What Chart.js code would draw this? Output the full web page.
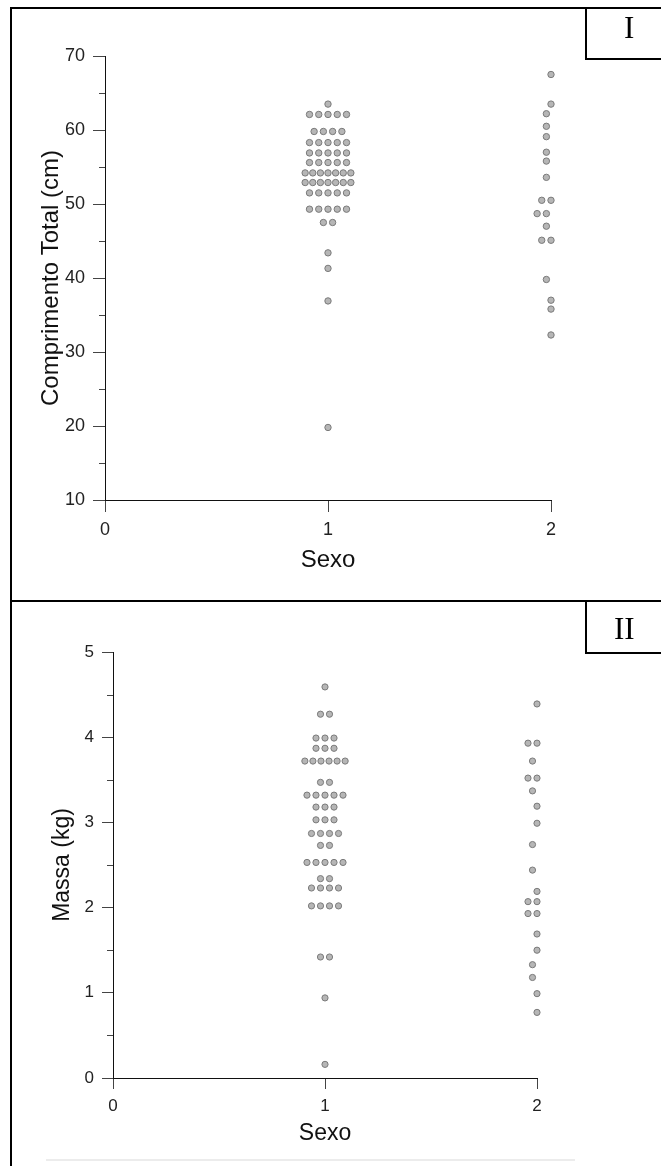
<!DOCTYPE html>
<html>
<head>
<meta charset="utf-8">
<script src="https://cdn.jsdelivr.net/npm/chart.js@4.4.0/dist/chart.umd.min.js"></script>
<style>
  body { margin: 0; background: #fff; }
  #wrap { position: relative; width: 661px; height: 1166px; overflow: hidden; background: #fff; }
  canvas { position: absolute; left: 0; }
  .line { position: absolute; background: #000; }
  .tag { position: absolute; font-family: "Liberation Serif", "Times New Roman", serif; font-size: 31px; color: #000; line-height: 1; }
</style>
</head>
<body>
<div id="wrap">
  <canvas id="chartComprimento" width="661" height="600" style="top:0"></canvas>
  <canvas id="chartMassa" width="661" height="565" style="top:601px"></canvas>

  <div class="line" style="left:10px;top:7px;width:2px;height:1159px"></div>
  <div class="line" style="left:10px;top:7px;width:651px;height:2px"></div>
  <div class="line" style="left:10px;top:600px;width:651px;height:2px"></div>
  <div class="line" style="left:585px;top:7px;width:2px;height:53px"></div>
  <div class="line" style="left:585px;top:58px;width:76px;height:2px"></div>
  <div class="line" style="left:585px;top:600px;width:2px;height:54px"></div>
  <div class="line" style="left:585px;top:652px;width:76px;height:2px"></div>
  <div style="position:absolute;left:46px;top:1159px;width:529px;height:2px;background:#ececec"></div>
  <div class="tag" style="left:624px;top:12px">I</div>
  <div class="tag" style="left:614px;top:613px">II</div>
</div>
<script>
"use strict";

// Comprimento Total (cm), one entry per fish
const comprimentoSexo1 = [
    63.5,
    62.1, 62.1, 62.1, 62.1, 62.1,
    59.8, 59.8, 59.8, 59.8,
    58.3, 58.3, 58.3, 58.3, 58.3,
    56.9, 56.9, 56.9, 56.9, 56.9,
    55.6, 55.6, 55.6, 55.6, 55.6,
    54.2, 54.2, 54.2, 54.2, 54.2, 54.2, 54.2,
    52.9, 52.9, 52.9, 52.9, 52.9, 52.9, 52.9,
    51.5, 51.5, 51.5, 51.5, 51.5,
    49.3, 49.3, 49.3, 49.3, 49.3,
    47.5, 47.5,
    43.4, 41.3, 36.9, 19.8
];
const comprimentoSexo2 = [
    67.5, 63.5,
    62.2, 62.2,
    60.5, 60.5,
    59.1, 59.1,
    57.0, 57.0,
    55.8, 55.8,
    53.6, 53.6,
    50.5, 50.5, 50.5,
    48.7, 48.7, 48.7, 48.7,
    47.0, 47.0,
    45.1, 45.1, 45.1,
    39.8, 39.8,
    37.0, 35.8, 32.3
];

// Massa (kg)
const massaSexo1 = [
    4.59,
    4.27, 4.27,
    3.99, 3.99, 3.99,
    3.87, 3.87, 3.87,
    3.72, 3.72, 3.72, 3.72, 3.72, 3.72,
    3.47, 3.47,
    3.32, 3.32, 3.32, 3.32, 3.32,
    3.18, 3.18, 3.18,
    3.03, 3.03, 3.03,
    2.87, 2.87, 2.87, 2.87,
    2.73, 2.73,
    2.53, 2.53, 2.53, 2.53, 2.53,
    2.34, 2.34,
    2.23, 2.23, 2.23, 2.23,
    2.02, 2.02, 2.02, 2.02,
    1.42, 1.42,
    0.94, 0.16
];
const massaSexo2 = [
    4.39,
    3.93, 3.93, 3.93,
    3.72, 3.72,
    3.52, 3.52, 3.52,
    3.37, 3.37,
    3.19, 2.99,
    2.74, 2.74,
    2.44, 2.44,
    2.19,
    2.07, 2.07, 2.07,
    1.93, 1.93, 1.93,
    1.69, 1.50,
    1.33, 1.33,
    1.18, 1.18,
    0.99, 0.77
];

const sexoTicks = [0, 1, 2];
const comprimentoTicks = [10, 20, 30, 40, 50, 60, 70];
const comprimentoMinor = [15, 25, 35, 45, 55, 65];
const massaTicks = [0, 1, 2, 3, 4, 5];
const massaMinor = [0.5, 1.5, 2.5, 3.5, 4.5];

Chart.defaults.font.family = '"Liberation Sans", Arial, sans-serif';
Chart.defaults.color = '#222';

// spread equal values side by side like a dot plot
function dotRow(values, center, gapMax, spanMax) {
    const counts = {};
    values.forEach(v => { counts[v] = (counts[v] || 0) + 1; });
    const seen = {};
    return values.map(v => {
        const n = counts[v];
        const i = seen[v] || 0;
        seen[v] = i + 1;
        const gap = n > 1 ? Math.min(gapMax, spanMax / (n - 1)) : 0;
        return { x: center + (i - (n - 1) / 2) * gap, y: v };
    });
}

const minorTicks = {
    id: 'minorTicks',
    afterDraw(chart, args, opts) {
        const y = chart.scales.y;
        const ctx = chart.ctx;
        ctx.save();
        ctx.strokeStyle = '#444';
        ctx.lineWidth = 1;
        opts.values.forEach(v => {
            const py = Math.round(y.getPixelForValue(v)) + 0.5;
            ctx.beginPath();
            ctx.moveTo(y.right - opts.length, py);
            ctx.lineTo(y.right, py);
            ctx.stroke();
        });
        ctx.restore();
    }
};

function makeChart(id, cfg) {
    const ctx = document.getElementById(id).getContext('2d');
    return new Chart(ctx, {
        type: 'scatter',
        data: {
            datasets: [
                { data: dotRow(cfg.sexo1, 1, cfg.gapMax, cfg.spanMax), clip: false },
                { data: dotRow(cfg.sexo2, 2, cfg.gapMax, cfg.spanMax), clip: false }
            ]
        },
        options: {
            responsive: false,
            animation: false,
            layout: { padding: cfg.padding },
            elements: {
                point: {
                    radius: cfg.radius,
                    borderWidth: 1,
                    backgroundColor: '#b6b6b6',
                    borderColor: '#7a7a7a',
                    hoverRadius: cfg.radius
                }
            },
            plugins: {
                legend: { display: false },
                tooltip: { enabled: false },
                minorTicks: { values: cfg.minor, length: 6 }
            },
            scales: {
                x: {
                    type: 'linear',
                    min: 0,
                    max: 2,
                    afterBuildTicks: s => { s.ticks = sexoTicks.map(v => ({ value: v })); },
                    afterFit: s => { s.height = cfg.xHeight; },
                    grid: { drawOnChartArea: false, tickLength: cfg.tickLength, color: '#444' },
                    border: { display: true, color: '#111', width: 1 },
                    ticks: { padding: cfg.xPad, font: { size: cfg.tickSize }, maxRotation: 0 },
                    title: {
                        display: true,
                        text: 'Sexo',
                        color: '#111',
                        font: { size: cfg.titleSize },
                        padding: { top: 0, bottom: cfg.xTitlePad }
                    }
                },
                y: {
                    min: cfg.yTicks[0],
                    max: cfg.yTicks[cfg.yTicks.length - 1],
                    afterBuildTicks: s => { s.ticks = cfg.yTicks.map(v => ({ value: v })); },
                    afterFit: s => { s.width = cfg.yWidth; },
                    grid: { drawOnChartArea: false, tickLength: cfg.tickLength, color: '#444' },
                    border: { display: true, color: '#111', width: 1 },
                    ticks: { padding: cfg.yPad, font: { size: cfg.tickSize } },
                    title: {
                        display: true,
                        text: cfg.yTitle,
                        color: '#111',
                        font: { size: cfg.titleSize },
                        padding: { top: cfg.yTitlePad, bottom: 0 }
                    }
                }
            }
        },
        plugins: [minorTicks]
    });
}

window.addEventListener('load', () => {
    makeChart('chartComprimento', {
        sexo1: comprimentoSexo1,
        sexo2: comprimentoSexo2,
        yTicks: comprimentoTicks,
        minor: comprimentoMinor,
        yTitle: 'Comprimento Total (cm)',
        padding: { top: 56, right: 110, left: 0, bottom: 0 },
        yWidth: 105,
        xHeight: 100,
        tickLength: 12,
        tickSize: 18,
        titleSize: 24,
        xPad: 7,
        yPad: 8,
        xTitlePad: 25,
        yTitlePad: 37,
        radius: 3.2,
        gapMax: 0.0415,
        spanMax: 0.205
    });
    makeChart('chartMassa', {
        sexo1: massaSexo1,
        sexo2: massaSexo2,
        yTicks: massaTicks,
        minor: massaMinor,
        yTitle: 'Massa (kg)',
        padding: { top: 51, right: 124, left: 0, bottom: 0 },
        yWidth: 113,
        xHeight: 88,
        tickLength: 11,
        tickSize: 17,
        titleSize: 23,
        xPad: 7,
        yPad: 8,
        xTitlePad: 19,
        yTitlePad: 49,
        radius: 3.1,
        gapMax: 0.0425,
        spanMax: 0.19
    });
});
</script>
</body>
</html>
